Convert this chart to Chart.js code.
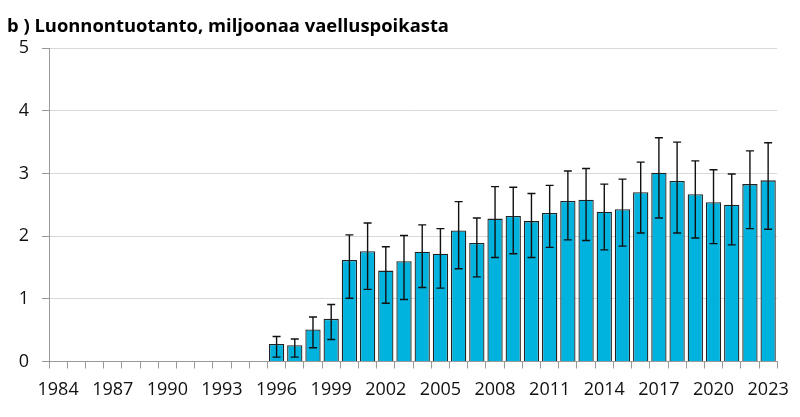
<!DOCTYPE html>
<html>
<head>
<meta charset="utf-8">
<script src="https://cdn.jsdelivr.net/npm/chart.js@4"></script>
<style>
  html, body { margin: 0; padding: 0; background: #fff; }
  #wrap { width: 800px; height: 417px; position: relative; }
</style>
</head>
<body>
<div id="wrap"><canvas id="smoltChart"></canvas></div>
<script>
// years 1984 - 2023
const years = [];
for (let y = 1984; y <= 2023; y++) years.push(String(y));

// natural production, million smolts (no data before 1996)
const production = [
  null, null, null, null, null, null, null, null, null, null, null, null,
  0.28, 0.26, 0.51, 0.68, 1.62, 1.76, 1.45, 1.60, 1.75, 1.72,
  2.09, 1.89, 2.28, 2.32, 2.24, 2.37, 2.56, 2.58, 2.39, 2.43,
  2.70, 3.01, 2.88, 2.67, 2.54, 2.50, 2.83, 2.89
];
const errLow = [
  null, null, null, null, null, null, null, null, null, null, null, null,
  0.07, 0.07, 0.22, 0.35, 1.01, 1.15, 0.93, 0.99, 1.18, 1.17,
  1.48, 1.35, 1.66, 1.72, 1.66, 1.82, 1.94, 1.93, 1.78, 1.84,
  2.05, 2.29, 2.05, 1.97, 1.88, 1.86, 2.12, 2.11
];
const errHigh = [
  null, null, null, null, null, null, null, null, null, null, null, null,
  0.40, 0.36, 0.71, 0.91, 2.02, 2.21, 1.83, 2.01, 2.18, 2.12,
  2.55, 2.29, 2.79, 2.78, 2.68, 2.81, 3.04, 3.08, 2.83, 2.91,
  3.18, 3.57, 3.50, 3.20, 3.06, 2.99, 3.36, 3.49
];
const labelYears = ['1984','1987','1990','1993','1996','1999','2002','2005','2008','2011','2014','2017','2020','2023'];

// simple error bars drawn through the y scale
const errorBars = {
  id: 'errorBars',
  afterDatasetsDraw(chart) {
    const ctx = chart.ctx;
    const yScale = chart.scales.y;
    const meta = chart.getDatasetMeta(0);
    ctx.save();
    ctx.strokeStyle = '#111';
    ctx.lineWidth = 1.4;
    meta.data.forEach((bar, i) => {
      if (errLow[i] == null) return;
      const x = bar.x;
      const top = yScale.getPixelForValue(errHigh[i]);
      const bot = yScale.getPixelForValue(errLow[i]);
      ctx.beginPath();
      ctx.moveTo(x, top); ctx.lineTo(x, bot);
      ctx.moveTo(x - 4, top); ctx.lineTo(x + 4, top);
      ctx.moveTo(x - 4, bot); ctx.lineTo(x + 4, bot);
      ctx.stroke();
    });
    ctx.restore();
  }
};

const ctx = document.getElementById('smoltChart').getContext('2d');
new Chart(ctx, {
  type: 'bar',
  data: {
    labels: years,
    datasets: [{
      data: production,
      backgroundColor: '#00b2de',
      borderColor: '#222',
      borderWidth: 1.3,
      barPercentage: 0.84,
      categoryPercentage: 1.0
    }]
  },
  options: {
    responsive: true,
    maintainAspectRatio: false,
    animation: false,
    layout: { padding: { left: 7, right: 22, top: 0, bottom: 0 } },
    plugins: {
      legend: { display: false },
      tooltip: { enabled: false },
      title: {
        display: true,
        text: 'b ) Luonnontuotanto, miljoonaa vaelluspoikasta',
        align: 'start',
        color: '#000',
        font: { family: 'Open Sans', size: 18.4, weight: 'bold' },
        padding: { top: 16, bottom: 10 }
      }
    },
    scales: {
      x: {
        grid: { display: true, drawOnChartArea: false, drawTicks: true, tickLength: 7, tickColor: '#999', offset: true },
        border: { color: '#999' },
        ticks: {
          autoSkip: false,
          maxRotation: 0,
          padding: 11,
          color: '#111',
          font: { family: 'Open Sans', size: 18 },
          callback: function(value) {
            const lab = this.getLabelForValue(value);
            return labelYears.includes(lab) ? lab : '';
          }
        },
        afterFit(scale) { scale.height = 55.5; }
      },
      y: {
        min: 0,
        max: 5,
        grid: { color: '#d9d9d9', tickColor: '#999', tickLength: 7 },
        border: { color: '#999' },
        ticks: {
          stepSize: 1,
          padding: 13,
          color: '#111',
          font: { family: 'Open Sans', size: 18 }
        },
        afterFit(scale) { scale.width = 42; }
      }
    }
  },
  plugins: [errorBars]
});
</script>
</body>
</html>
